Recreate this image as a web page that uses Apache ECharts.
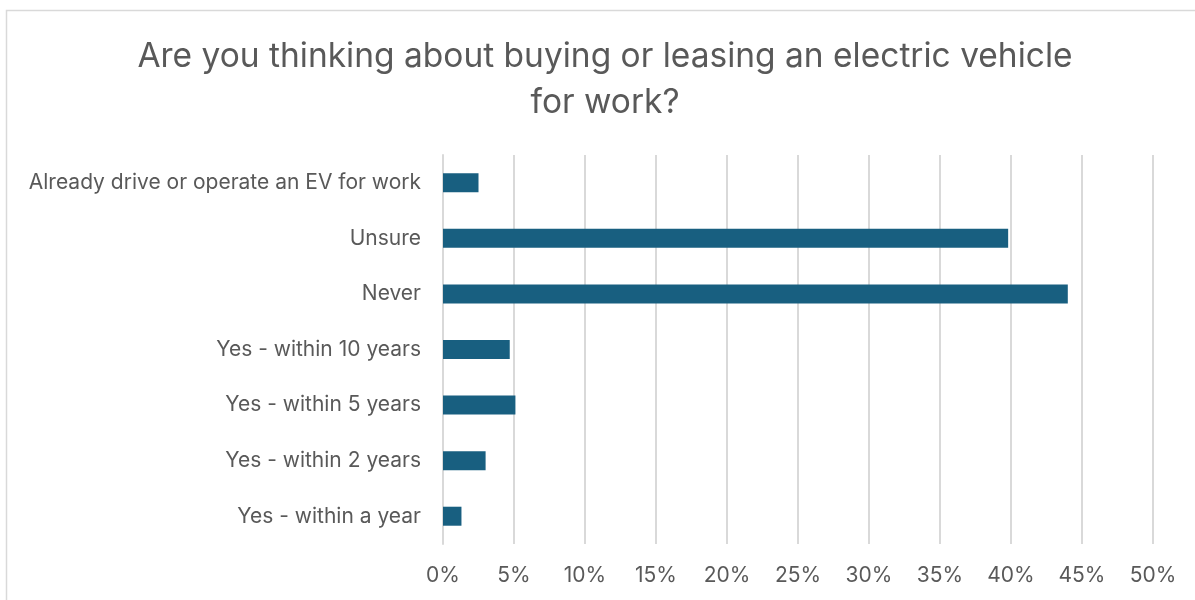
<!DOCTYPE html>
<html>
<head>
<meta charset="utf-8">
<script src="https://cdn.jsdelivr.net/npm/echarts@6/dist/echarts.min.js"></script>
<style>
  html, body { margin: 0; padding: 0; background: #fff; }
  #chart { width: 1195px; height: 600px; }
</style>
</head>
<body>
<div id="chart"></div>
<script>
// Survey answers, listed bottom to top as drawn on the category axis
const categories = [
  'Yes - within a year',
  'Yes - within 2 years',
  'Yes - within 5 years',
  'Yes - within 10 years',
  'Never',
  'Unsure',
  'Already drive or operate an EV for work'
];
// Share of respondents, percent
const shares = [1.3, 3.0, 5.1, 4.7, 44.0, 39.8, 2.5];
// Percentage axis ticks
const tickMin = 0;
const tickMax = 50;
const tickStep = 5;

const textColor = '#595959';
const gridColor = '#d9d9d9';
const fontFamily = 'Inter, "Open Sans", sans-serif';

const chart = echarts.init(document.getElementById('chart'));
chart.setOption({
  backgroundColor: '#ffffff',
  animation: false,
  graphic: [{
    type: 'rect',
    shape: { x: 6.5, y: 10.5, width: 1300, height: 700 },
    style: { fill: 'none', stroke: '#d9d9d9', lineWidth: 1.5 },
    silent: true
  }],
  title: {
    text: 'Are you thinking about buying or leasing an electric vehicle\nfor work?',
    left: 600,
    top: 29,
    textAlign: 'center',
    textStyle: {
      fontFamily: fontFamily,
      fontSize: 33.5,
      fontWeight: 'normal',
      color: textColor,
      lineHeight: 46
    }
  },
  grid: { left: 443, right: 42, top: 155, bottom: 56, containLabel: false },
  xAxis: {
    type: 'value',
    min: tickMin,
    max: tickMax,
    interval: tickStep,
    axisLine: { show: false },
    axisTick: { show: false },
    axisLabel: {
      formatter: v => v + '%',
      color: textColor,
      fontFamily: fontFamily,
      fontSize: 21,
      margin: 21
    },
    splitLine: { lineStyle: { color: gridColor, width: 2 } }
  },
  yAxis: {
    type: 'category',
    data: categories,
    axisLine: { show: true, lineStyle: { color: gridColor, width: 2 } },
    axisTick: { show: false },
    axisLabel: {
      color: textColor,
      fontFamily: fontFamily,
      fontSize: 21,
      margin: 22
    }
  },
  series: [{
    type: 'bar',
    data: shares,
    barWidth: 19,
    itemStyle: { color: '#185f80' }
  }]
});
</script>
</body>
</html>
